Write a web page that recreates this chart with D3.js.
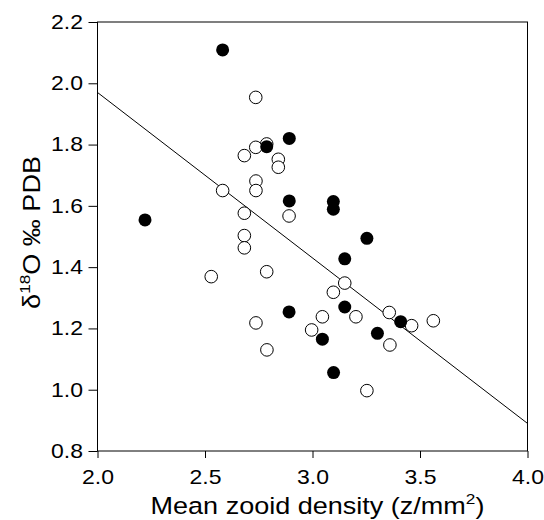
<!DOCTYPE html>
<html>
<head>
<meta charset="utf-8">
<script src="https://cdn.jsdelivr.net/npm/d3@7"></script>
<style>
  body { margin: 0; background: #fff; }
  text { font-family: "Liberation Sans", Arial, sans-serif; fill: #000; }
</style>
</head>
<body>
<script>
// filled symbols
const filledX = [2.582, 2.892, 2.787, 2.892, 3.097, 3.097, 2.221, 3.253, 3.150, 3.150, 2.891, 3.410, 3.302, 3.046, 3.098];
const filledY = [2.109, 1.820, 1.793, 1.616, 1.614, 1.589, 1.554, 1.494, 1.427, 1.270, 1.254, 1.222, 1.184, 1.165, 1.056];
// open symbols
const openX = [2.736, 2.787, 2.736, 2.683, 2.841, 2.841, 2.737, 2.737, 2.582, 2.683, 2.891, 2.683, 2.683, 2.787,
  2.529, 3.150, 3.097, 3.357, 3.202, 3.046, 3.562, 2.737, 3.461, 2.996, 3.360, 2.788, 3.253];
const openY = [1.954, 1.802, 1.791, 1.764, 1.752, 1.726, 1.681, 1.650, 1.650, 1.576, 1.567, 1.503, 1.463, 1.385,
  1.369, 1.348, 1.318, 1.252, 1.238, 1.238, 1.225, 1.218, 1.209, 1.195, 1.146, 1.130, 0.997];
// regression line end points
const fitX = [2.0, 4.0];
const fitY = [1.97, 0.89];
const xTicks = [2.0, 2.5, 3.0, 3.5, 4.0];
const yTicks = [0.8, 1.0, 1.2, 1.4, 1.6, 1.8, 2.0, 2.2];

const W = 544, H = 520;
const margin = { top: 22, right: 16.5, bottom: 69, left: 97.5 };
const width = W - margin.left - margin.right;
const height = H - margin.top - margin.bottom;
const stretch = 1.15; // text in the original is a bit wider than Arial

const svg = d3.select('body').append('svg')
  .attr('width', W)
  .attr('height', H);

const g = svg.append('g')
  .attr('transform', 'translate(' + margin.left + ',' + margin.top + ')');

const x = d3.scaleLinear().domain([2.0, 4.0]).range([0, width]);
const y = d3.scaleLinear().domain([0.8, 2.2]).range([height, 0]);
const fmt = d3.format('.1f');

// frame
g.append('rect')
  .attr('width', width)
  .attr('height', height)
  .attr('fill', 'none')
  .attr('stroke', '#000')
  .attr('stroke-width', 1);

// axes
const xAxis = g.append('g')
  .attr('transform', 'translate(0,' + height + ')')
  .call(d3.axisBottom(x).tickValues(xTicks).tickFormat(fmt).tickSize(7).tickPadding(12));
const yAxis = g.append('g')
  .call(d3.axisLeft(y).tickValues(yTicks).tickFormat(fmt).tickSize(9).tickPadding(5.5));

[xAxis, yAxis].forEach(function (a) {
  a.select('.domain').remove();
  a.selectAll('line').attr('stroke', '#000');
  a.selectAll('text')
    .style('font-size', '20px')
    .attr('fill', '#000')
    .attr('transform', 'scale(' + stretch + ',1)');
});
yAxis.selectAll('text').attr('x', -(9 + 5.5) / stretch);

// regression line
g.append('line')
  .attr('x1', x(fitX[0])).attr('y1', y(fitY[0]))
  .attr('x2', x(fitX[1])).attr('y2', y(fitY[1]))
  .attr('stroke', '#000')
  .attr('stroke-width', 1);

// points
g.append('g').selectAll('circle')
  .data(openX)
  .enter().append('circle')
  .attr('cx', function (d) { return x(d); })
  .attr('cy', function (d, i) { return y(openY[i]); })
  .attr('r', 6.3)
  .attr('fill', '#fff')
  .attr('stroke', '#000')
  .attr('stroke-width', 1);

g.append('g').selectAll('circle')
  .data(filledX)
  .enter().append('circle')
  .attr('cx', function (d) { return x(d); })
  .attr('cy', function (d, i) { return y(filledY[i]); })
  .attr('r', 6.5)
  .attr('fill', '#000');

// axis titles
const xt = svg.append('text')
  .attr('transform', 'translate(' + (margin.left + width / 2 + 5) + ',514) scale(' + stretch + ',1)')
  .attr('text-anchor', 'middle')
  .style('font-size', '23.5px');
xt.append('tspan').text('Mean zooid density (z/mm');
xt.append('tspan').text('2').attr('dy', -10).style('font-size', '15px');
xt.append('tspan').text(')').attr('dy', 10);

const yt = svg.append('text')
  .attr('transform', 'translate(40,' + (margin.top + height / 2 - 4) + ') rotate(-90) scale(' + stretch + ',1)')
  .attr('text-anchor', 'middle')
  .style('font-size', '23.5px');
yt.append('tspan').text('\u03b4');
yt.append('tspan').text('18').attr('dy', -10).style('font-size', '15px');
yt.append('tspan').text('O \u2030 PDB').attr('dy', 10);
</script>
</body>
</html>
